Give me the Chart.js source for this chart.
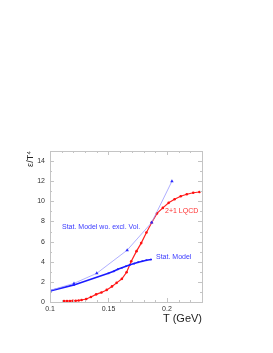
<!DOCTYPE html>
<html>
<head>
<meta charset="utf-8">
<script src="https://cdn.jsdelivr.net/npm/chart.js@4/dist/chart.umd.min.js"></script>
<style>
  html, body { margin: 0; padding: 0; background: #fff; }
  #wrap { width: 273px; height: 353px; }
</style>
</head>
<body>
<div id="wrap"><canvas id="eos-chart" width="273" height="353"></canvas></div>
<script>
// lattice QCD 2+1 flavours
const lqcdT = [0.112, 0.1145, 0.117, 0.1195, 0.122, 0.1245, 0.127, 0.131, 0.135, 0.1395, 0.144, 0.1485,
    0.153, 0.157, 0.1615, 0.1655, 0.1695, 0.174, 0.178, 0.1825, 0.187, 0.1915, 0.1965, 0.2015, 0.2065,
    0.2118, 0.217, 0.2225, 0.2278];
const lqcdE = [0.1, 0.1, 0.1, 0.12, 0.13, 0.15, 0.2, 0.3, 0.5, 0.76, 0.95, 1.2,
    1.55, 1.9, 2.3, 2.95, 4.05, 5.05, 5.85, 6.9, 7.9, 8.8, 9.35, 9.85, 10.2,
    10.5, 10.7, 10.85, 10.93];

// statistical model (with excluded volume)
const statT = [0.1, 0.1205, 0.15, 0.1545, 0.158, 0.1615, 0.165, 0.1685, 0.172, 0.1755, 0.179, 0.1825, 0.1865];
const statE = [1.1, 1.7, 2.85, 3.05, 3.25, 3.4, 3.55, 3.7, 3.82, 3.95, 4.05, 4.15, 4.22];

// statistical model without excluded volume
const noExclT = [0.1, 0.1205, 0.14, 0.166, 0.187, 0.2043];
const noExclE = [1.15, 1.85, 2.85, 5.15, 7.9, 12.0];

const xTicks = [0.1, 0.15, 0.2];
const yTicks = [0, 2, 4, 6, 8, 10, 12, 14];

function toPoints(xs, ys) {
    return xs.map((x, i) => ({ x: x, y: ys[i] }));
}

const FONT = '"Liberation Sans", Arial, sans-serif';

// frame, inward ticks and text labels
const framePlugin = {
    id: 'frame',
    afterDraw(chart) {
        const ctx = chart.ctx;
        const a = chart.chartArea;
        const xs = chart.scales.x;
        const ys = chart.scales.y;
        ctx.save();
        ctx.strokeStyle = '#c4c4c4';
        ctx.lineWidth = 1;
        ctx.strokeRect(a.left + 0.5, a.top + 0.5, a.right - a.left, a.bottom - a.top);

        ctx.beginPath();
        for (let v = 0; v <= 15; v++) {
            const py = Math.round(ys.getPixelForValue(v)) + 0.5;
            const len = v % 2 === 0 ? 4 : 2;
            ctx.moveTo(a.left, py); ctx.lineTo(a.left + len, py);
            ctx.moveTo(a.right, py); ctx.lineTo(a.right - len, py);
        }
        for (let k = 10; k <= 23; k++) {
            const px = Math.round(xs.getPixelForValue(k / 100)) + 0.5;
            const len = k % 5 === 0 ? 4 : 2;
            ctx.moveTo(px, a.bottom); ctx.lineTo(px, a.bottom - len);
            ctx.moveTo(px, a.top); ctx.lineTo(px, a.top + len);
        }
        ctx.stroke();

        // axis titles
        ctx.fillStyle = '#222';
        ctx.font = '11px ' + FONT;
        ctx.textAlign = 'right';
        ctx.textBaseline = 'alphabetic';
        ctx.fillText('T (GeV)', a.right, a.top + 171);

        ctx.save();
        ctx.translate(33, a.top);
        ctx.rotate(-Math.PI / 2);
        ctx.font = '9px ' + FONT;
        ctx.textAlign = 'right';
        ctx.fillText('\u03b5/T\u2074', 0, 0);
        ctx.restore();

        // curve labels
        ctx.font = '7px ' + FONT;
        ctx.textAlign = 'left';
        ctx.textBaseline = 'middle';
        ctx.fillStyle = '#3a3aff';
        ctx.fillText('Stat. Model wo. excl. Vol.', 62, 227);
        ctx.fillText('Stat. Model', 156, 257);
        ctx.fillStyle = '#ff3030';
        ctx.fillText('2+1 LQCD', 165, 211);
        ctx.restore();
    }
};

new Chart(document.getElementById('eos-chart').getContext('2d'), {
    type: 'scatter',
    data: {
        datasets: [{
            label: 'Stat. Model wo. excl. Vol.',
            data: toPoints(noExclT, noExclE),
            showLine: true,
            borderColor: '#9a9aff',
            borderWidth: 0.8,
            pointStyle: 'triangle',
            pointRadius: 2,
            pointBackgroundColor: '#2a2aff',
            pointBorderColor: '#2a2aff',
            pointBorderWidth: 0
        }, {
            label: 'Stat. Model',
            data: toPoints(statT, statE),
            showLine: true,
            borderColor: '#1a1aff',
            borderWidth: 1.6,
            pointStyle: 'rect',
            pointRadius: 1.2,
            pointBackgroundColor: '#1a1aff',
            pointBorderColor: '#1a1aff',
            pointBorderWidth: 0
        }, {
            label: '2+1 LQCD',
            data: toPoints(lqcdT, lqcdE),
            showLine: true,
            borderColor: '#ff2020',
            borderWidth: 1.2,
            pointStyle: 'circle',
            pointRadius: 1.3,
            pointBackgroundColor: '#ff1010',
            pointBorderColor: '#ff1010',
            pointBorderWidth: 0
        }]
    },
    options: {
        responsive: false,
        animation: false,
        layout: { padding: { left: 0, top: 151, right: 71, bottom: 0 } },
        plugins: { legend: { display: false }, tooltip: { enabled: false } },
        scales: {
            x: {
                type: 'linear',
                min: 0.1,
                max: 0.23,
                afterFit(scale) { scale.height = 51; },
                afterBuildTicks(scale) { scale.ticks = xTicks.map(v => ({ value: v })); },
                grid: { display: false, drawTicks: false },
                border: { display: false },
                ticks: {
                    font: { size: 7, family: FONT },
                    color: '#333',
                    padding: 3,
                    maxRotation: 0,
                    callback: v => String(v)
                }
            },
            y: {
                type: 'linear',
                min: 0,
                max: 15,
                afterFit(scale) { scale.width = 50; },
                afterBuildTicks(scale) { scale.ticks = yTicks.map(v => ({ value: v })); },
                grid: { display: false, drawTicks: false },
                border: { display: false },
                ticks: {
                    font: { size: 7, family: FONT },
                    color: '#333',
                    padding: 5
                }
            }
        }
    },
    plugins: [framePlugin]
});
</script>
</body>
</html>
